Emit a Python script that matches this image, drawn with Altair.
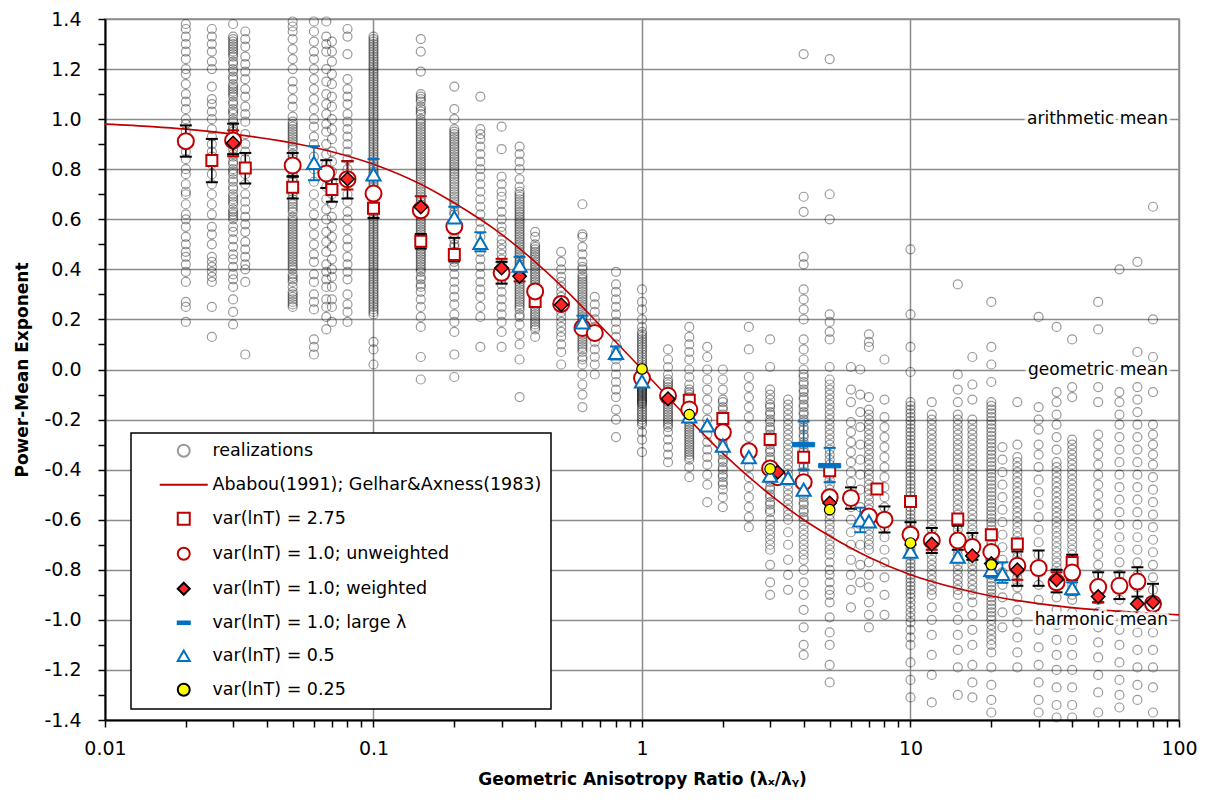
import altair as alt
import pandas as pd

# ---------------- series names / legend ----------------
LABELS = ["realizations", "Ababou(1991); Gelhar&Axness(1983)", "var(lnT) = 2.75",
          "var(lnT) = 1.0; unweighted", "var(lnT) = 1.0; weighted", "var(lnT) = 1.0; large λ",
          "var(lnT) = 0.5", "var(lnT) = 0.25"]

# ---------------- realizations (read per column) ----------------
real_x = [0.02, 0.025, 0.03, 0.0333, 0.05, 0.06, 0.0667, 0.07, 0.08, 0.1, 0.15, 0.2, 0.25, 0.3, 0.35,
          0.4, 0.5, 0.6, 0.667, 0.8, 1, 1.25, 1.5, 1.75, 2, 2.5, 3, 3.5, 4, 5, 6, 6.5, 7, 8, 10, 12,
          15, 17, 20, 22, 25, 30, 35, 40, 50, 60, 70, 80]
real_y = [
    [1.38, 1.36, 1.33, 1.30, 1.27, 1.24, 1.20, 1.18, 1.14, 1.10, 1.07, 1.04, 1.00, 0.98, 0.95, 0.92, 0.90, 0.87, 0.84, 0.80, 0.78, 0.74, 0.71, 0.70, 0.66, 0.62, 0.60, 0.57, 0.53, 0.50, 0.47, 0.45, 0.42, 0.39, 0.35, 0.27, 0.25, 0.19],
    [1.36, 1.33, 1.30, 1.27, 1.23, 1.20, 1.13, 1.08, 1.06, 1.03, 1.00, 0.96, 0.93, 0.90, 0.87, 0.85, 0.82, 0.78, 0.74, 0.70, 0.66, 0.62, 0.57, 0.54, 0.50, 0.45, 0.43, 0.41, 0.39, 0.37, 0.35, 0.25, 0.13],
    [1.38, 1.33, 1.31, 1.30, 1.28, 1.26, 1.23, 1.20, 1.17, 1.14, 1.12, 1.10, 1.07, 1.04, 1.00, 0.99, 0.97, 0.95, 0.90, 0.86, 0.83, 0.80, 0.78, 0.76, 0.73, 0.70, 0.69, 0.67, 0.64, 0.62, 0.60, 0.57, 0.55, 0.52, 0.49, 0.46, 0.44, 0.41, 0.38, 0.36, 0.33, 0.28, 0.23, 0.18],
    [1.35, 1.32, 1.29, 1.25, 1.22, 1.19, 1.16, 1.12, 1.09, 1.05, 1.02, 0.99, 0.94, 0.90, 0.87, 0.84, 0.78, 0.74, 0.70, 0.67, 0.64, 0.61, 0.58, 0.55, 0.51, 0.48, 0.45, 0.42, 0.40, 0.35, 0.06],
    [1.39, 1.37, 1.35, 1.32, 1.28, 1.24, 1.20, 1.15, 1.12, 1.08, 1.05, 1.01, 0.99, 0.97, 0.95, 0.93, 0.91, 0.89, 0.86, 0.84, 0.80, 0.78, 0.75, 0.72, 0.70, 0.67, 0.65, 0.63, 0.60, 0.58, 0.56, 0.54, 0.52, 0.50, 0.48, 0.46, 0.45, 0.44, 0.42, 0.40, 0.37, 0.35, 0.31, 0.30, 0.28, 0.26, 0.25],
    [1.39, 1.35, 1.31, 1.27, 1.24, 1.20, 1.16, 1.12, 1.08, 1.04, 1.00, 0.97, 0.93, 0.90, 0.85, 0.80, 0.75, 0.70, 0.66, 0.62, 0.58, 0.54, 0.50, 0.46, 0.43, 0.38, 0.35, 0.30, 0.27, 0.24, 0.12, 0.09, 0.06],
    [1.39, 1.33, 1.30, 1.27, 1.20, 1.15, 1.10, 1.06, 1.02, 0.98, 0.95, 0.90, 0.86, 0.82, 0.77, 0.73, 0.68, 0.64, 0.60, 0.55, 0.51, 0.47, 0.42, 0.39, 0.36, 0.33, 0.28, 0.25, 0.21, 0.16],
    [1.31, 1.27, 1.23, 1.18, 1.14, 1.09, 1.05, 1.00, 0.96, 0.92, 0.87, 0.83, 0.79, 0.75, 0.70, 0.66, 0.61, 0.57, 0.53, 0.49, 0.44, 0.40, 0.37, 0.33, 0.28, 0.25, 0.19],
    [1.36, 1.33, 1.26, 1.16, 1.12, 1.09, 1.06, 1.02, 0.99, 0.96, 0.93, 0.90, 0.87, 0.84, 0.80, 0.77, 0.74, 0.70, 0.67, 0.63, 0.60, 0.56, 0.52, 0.49, 0.45, 0.42, 0.39, 0.36, 0.30, 0.26, 0.23, 0.19],
    [1.33, 1.31, 1.29, 1.26, 1.24, 1.22, 1.20, 1.18, 1.15, 1.13, 1.11, 1.10, 1.08, 1.06, 1.04, 1.02, 1.00, 0.98, 0.97, 0.95, 0.93, 0.91, 0.89, 0.87, 0.85, 0.83, 0.82, 0.80, 0.78, 0.76, 0.74, 0.72, 0.70, 0.68, 0.66, 0.64, 0.62, 0.60, 0.58, 0.56, 0.54, 0.52, 0.50, 0.48, 0.46, 0.44, 0.42, 0.40, 0.38, 0.36, 0.34, 0.32, 0.30, 0.28, 0.26, 0.24, 0.22, 0.11, 0.08, 0.02],
    [1.32, 1.27, 1.19, 1.10, 1.08, 1.05, 1.03, 1.00, 0.98, 0.96, 0.94, 0.92, 0.90, 0.88, 0.86, 0.84, 0.82, 0.80, 0.78, 0.76, 0.74, 0.72, 0.70, 0.68, 0.66, 0.64, 0.62, 0.60, 0.58, 0.56, 0.54, 0.52, 0.50, 0.48, 0.46, 0.44, 0.42, 0.40, 0.37, 0.34, 0.31, 0.28, 0.25, 0.21, 0.17, 0.05, -0.04],
    [1.13, 1.04, 1.00, 0.96, 0.94, 0.92, 0.90, 0.88, 0.86, 0.84, 0.82, 0.80, 0.78, 0.76, 0.74, 0.72, 0.70, 0.68, 0.66, 0.63, 0.60, 0.57, 0.54, 0.50, 0.47, 0.44, 0.41, 0.38, 0.35, 0.32, 0.29, 0.26, 0.22, 0.19, 0.15, 0.06, -0.03],
    [1.09, 0.96, 0.94, 0.92, 0.89, 0.86, 0.83, 0.80, 0.77, 0.74, 0.71, 0.68, 0.65, 0.62, 0.59, 0.56, 0.53, 0.50, 0.47, 0.44, 0.41, 0.38, 0.35, 0.32, 0.29, 0.25, 0.21, 0.09],
    [0.97, 0.88, 0.77, 0.74, 0.71, 0.69, 0.66, 0.63, 0.60, 0.57, 0.55, 0.52, 0.50, 0.48, 0.46, 0.44, 0.42, 0.40, 0.38, 0.36, 0.34, 0.31, 0.28, 0.25, 0.22, 0.19, 0.15, 0.09],
    [0.89, 0.86, 0.83, 0.80, 0.76, 0.73, 0.70, 0.68, 0.66, 0.64, 0.62, 0.60, 0.58, 0.56, 0.54, 0.52, 0.50, 0.48, 0.46, 0.44, 0.42, 0.40, 0.38, 0.36, 0.34, 0.32, 0.30, 0.28, 0.26, 0.24, 0.21, 0.18, 0.14, 0.10, 0.04, -0.11],
    [0.55, 0.53, 0.50, 0.48, 0.46, 0.44, 0.42, 0.40, 0.38, 0.36, 0.34, 0.32, 0.30, 0.28, 0.26, 0.24, 0.22, 0.20, 0.18, 0.16, 0.13],
    [0.47, 0.43, 0.40, 0.37, 0.35, 0.33, 0.31, 0.29, 0.27, 0.25, 0.23, 0.21, 0.19, 0.17, 0.15, 0.13, 0.10, 0.07, 0.02],
    [0.66, 0.54, 0.53, 0.49, 0.46, 0.43, 0.41, 0.38, 0.36, 0.34, 0.32, 0.30, 0.28, 0.26, 0.24, 0.22, 0.20, 0.18, 0.16, 0.14, 0.12, 0.10, 0.08, 0.05, 0.02, -0.02, -0.06, -0.10, -0.15],
    [0.29, 0.26, 0.23, 0.20, 0.17, 0.14, 0.11, 0.08, 0.05, 0.02, -0.02],
    [0.39, 0.34, 0.31, 0.28, 0.25, 0.22, 0.19, 0.16, 0.13, 0.10, 0.07, 0.04, 0.01, -0.02, -0.05, -0.08, -0.11, -0.16, -0.20, -0.27],
    [0.32, 0.27, 0.24, 0.20, 0.17, 0.14, 0.12, 0.10, 0.08, 0.06, 0.04, 0.03, 0.02, 0.01, 0.00, -0.01, -0.02, -0.03, -0.04, -0.05, -0.06, -0.07, -0.08, -0.09, -0.10, -0.11, -0.12, -0.13, -0.14, -0.16, -0.18, -0.20, -0.22, -0.25, -0.28, -0.33],
    [0.08, 0.04, 0.01, -0.02, -0.04, -0.06, -0.08, -0.10, -0.12, -0.14, -0.16, -0.18, -0.20, -0.22, -0.25, -0.28, -0.31, -0.34, -0.37],
    [0.17, 0.13, 0.10, 0.07, 0.04, 0.00, -0.03, -0.06, -0.08, -0.10, -0.12, -0.14, -0.16, -0.18, -0.20, -0.22, -0.24, -0.26, -0.28, -0.30, -0.32, -0.34, -0.36, -0.39, -0.43],
    [0.09, 0.05, 0.00, -0.04, -0.08, -0.12, -0.16, -0.20, -0.23, -0.26, -0.29, -0.32, -0.35, -0.38, -0.42, -0.46, -0.53],
    [0.00, -0.04, -0.08, -0.12, -0.15, -0.18, -0.21, -0.24, -0.27, -0.30, -0.33, -0.36, -0.39, -0.42, -0.45, -0.48, -0.51, -0.55],
    [0.17, 0.08, -0.03, -0.07, -0.11, -0.15, -0.19, -0.23, -0.27, -0.31, -0.35, -0.39, -0.43, -0.47, -0.51, -0.55, -0.59, -0.63],
    [0.12, 0.01, -0.08, -0.12, -0.15, -0.18, -0.21, -0.24, -0.27, -0.30, -0.33, -0.36, -0.39, -0.42, -0.45, -0.48, -0.51, -0.54, -0.57, -0.60, -0.64, -0.68, -0.72, -0.78, -0.85, -0.90],
    [-0.12, -0.16, -0.20, -0.24, -0.28, -0.32, -0.36, -0.40, -0.44, -0.48, -0.52, -0.56, -0.60, -0.65, -0.70, -0.76, -0.82, -0.88],
    [1.26, 0.69, 0.63, 0.45, 0.42, 0.32, 0.28, 0.24, 0.20, 0.12, 0.08, 0.04, 0.00, -0.03, -0.06, -0.09, -0.12, -0.15, -0.18, -0.21, -0.24, -0.27, -0.30, -0.33, -0.36, -0.39, -0.42, -0.45, -0.48, -0.51, -0.54, -0.57, -0.60, -0.64, -0.68, -0.72, -0.76, -0.80, -0.85, -0.90, -0.96, -1.03, -1.10, -1.14],
    [1.24, 0.70, 0.60, 0.22, 0.19, 0.15, 0.12, 0.01, -0.04, -0.08, -0.12, -0.16, -0.20, -0.24, -0.28, -0.32, -0.36, -0.40, -0.44, -0.48, -0.52, -0.56, -0.60, -0.64, -0.68, -0.72, -0.77, -0.82, -0.88, -0.93, -0.99, -1.05, -1.10, -1.18, -1.25],
    [0.01, -0.08, -0.13, -0.21, -0.25, -0.29, -0.33, -0.37, -0.41, -0.45, -0.50, -0.55, -0.60, -0.65, -0.70, -0.76, -0.82, -0.88, -0.95],
    [0.00, -0.10, -0.17, -0.23, -0.30, -0.36, -0.42, -0.48, -0.55, -0.62, -0.70, -0.78, -0.85],
    [0.14, 0.11, 0.09, -0.11, -0.16, -0.20, -0.24, -0.28, -0.32, -0.36, -0.40, -0.44, -0.48, -0.52, -0.56, -0.60, -0.64, -0.68, -0.72, -0.77, -0.82, -0.87, -0.93, -0.98, -1.03],
    [0.04, -0.12, -0.19, -0.23, -0.27, -0.31, -0.35, -0.39, -0.43, -0.47, -0.51, -0.55, -0.59, -0.63, -0.67, -0.72, -0.77, -0.83, -0.90, -0.98],
    [0.48, 0.22, 0.09, -0.01, -0.13, -0.16, -0.19, -0.22, -0.25, -0.28, -0.31, -0.34, -0.37, -0.40, -0.43, -0.46, -0.49, -0.52, -0.55, -0.58, -0.61, -0.64, -0.67, -0.70, -0.73, -0.76, -0.79, -0.82, -0.85, -0.88, -0.91, -0.95, -0.99, -1.04, -1.10, -1.17, -1.24, -1.31],
    [-0.13, -0.18, -0.22, -0.26, -0.30, -0.34, -0.38, -0.42, -0.46, -0.50, -0.54, -0.58, -0.62, -0.66, -0.70, -0.74, -0.78, -0.82, -0.86, -0.90, -0.95, -1.00, -1.06, -1.14, -1.22, -1.33],
    [0.34, -0.02, -0.08, -0.13, -0.18, -0.22, -0.26, -0.30, -0.34, -0.38, -0.42, -0.46, -0.50, -0.54, -0.58, -0.62, -0.66, -0.70, -0.74, -0.78, -0.82, -0.86, -0.90, -0.95, -1.00, -1.06, -1.12, -1.19, -1.30],
    [0.05, -0.06, -0.12, -0.20, -0.24, -0.28, -0.32, -0.36, -0.40, -0.44, -0.48, -0.52, -0.56, -0.60, -0.64, -0.68, -0.72, -0.76, -0.80, -0.84, -0.88, -0.93, -0.98, -1.04, -1.10, -1.18, -1.25, -1.31],
    [0.27, 0.09, 0.02, -0.05, -0.13, -0.16, -0.19, -0.22, -0.25, -0.28, -0.31, -0.34, -0.37, -0.40, -0.43, -0.46, -0.49, -0.52, -0.55, -0.58, -0.61, -0.64, -0.67, -0.70, -0.73, -0.76, -0.79, -0.82, -0.85, -0.88, -0.91, -0.94, -0.97, -1.00, -1.04, -1.08, -1.13, -1.19, -1.26, -1.32, -1.37],
    [-0.31, -0.36, -0.41, -0.46, -0.51, -0.56, -0.61, -0.66, -0.71, -0.76, -0.81, -0.86, -0.91, -0.97, -1.03],
    [-0.13, -0.30, -0.35, -0.39, -0.43, -0.47, -0.51, -0.55, -0.59, -0.63, -0.67, -0.71, -0.75, -0.79, -0.83, -0.87, -0.91, -0.96, -1.01, -1.07, -1.13, -1.19],
    [0.21, -0.15, -0.20, -0.24, -0.30, -0.34, -0.39, -0.44, -0.49, -0.54, -0.59, -0.64, -0.69, -0.74, -0.80, -0.86, -0.92, -0.98, -1.04, -1.11, -1.18, -1.25, -1.32, -1.37],
    [0.17, -0.09, -0.13, -0.18, -0.22, -0.27, -0.32, -0.37, -0.41, -0.45, -0.49, -0.53, -0.57, -0.61, -0.65, -0.69, -0.73, -0.77, -0.81, -0.86, -0.91, -0.96, -1.02, -1.08, -1.14, -1.20, -1.27, -1.34, -1.39],
    [0.12, -0.07, -0.11, -0.28, -0.32, -0.36, -0.40, -0.44, -0.48, -0.52, -0.56, -0.60, -0.64, -0.68, -0.72, -0.76, -0.80, -0.84, -0.88, -0.92, -0.97, -1.02, -1.08, -1.14, -1.20, -1.27, -1.34, -1.39],
    [0.27, 0.16, -0.07, -0.13, -0.26, -0.30, -0.34, -0.38, -0.42, -0.46, -0.50, -0.54, -0.58, -0.62, -0.66, -0.70, -0.74, -0.78, -0.82, -0.87, -0.92, -0.97, -1.03, -1.09, -1.15, -1.22, -1.29, -1.37],
    [0.40, -0.09, -0.13, -0.18, -0.22, -0.27, -0.32, -0.37, -0.42, -0.47, -0.52, -0.57, -0.62, -0.67, -0.72, -0.77, -0.82, -0.87, -0.92, -0.98, -1.04, -1.10, -1.17, -1.24, -1.30, -1.35],
    [0.43, 0.07, -0.07, -0.12, -0.17, -0.22, -0.27, -0.32, -0.37, -0.42, -0.47, -0.52, -0.57, -0.62, -0.67, -0.72, -0.77, -0.82, -0.87, -0.93, -0.99, -1.05, -1.12, -1.19, -1.26, -1.32],
    [0.65, 0.20, 0.05, -0.09, -0.22, -0.26, -0.30, -0.34, -0.38, -0.43, -0.48, -0.53, -0.58, -0.63, -0.68, -0.73, -0.78, -0.83, -0.88, -0.93, -0.99, -1.05, -1.12, -1.19, -1.27, -1.37],
]
# extra circles in the darkest parts of the busiest columns
dense_x = [0.03, 0.05, 0.1, 0.15, 0.2, 0.35, 0.4, 0.6, 1, 1.25, 1.5, 2, 3, 3.5, 4, 5, 7, 10, 12, 15, 17,
           20, 25, 35, 40]
dense_y = [
    [1.32, 1.29, 1.27, 1.25, 1.22, 1.19, 1.16, 1.13, 1.11, 1.09, 1.06, 1.03, 1.02, 0.96, 0.94, 0.92, 0.88, 0.85, 0.82, 0.79, 0.75, 0.72, 0.68, 0.66, 0.63, 0.61],
    [0.98, 0.96, 0.94, 0.92, 0.90, 0.88, 0.85, 0.82, 0.79, 0.76, 0.73, 0.71, 0.68, 0.66, 0.64, 0.61, 0.59, 0.57, 0.55, 0.53, 0.51, 0.49, 0.47, 0.43, 0.41, 0.38, 0.36, 0.33, 0.29, 0.27],
    [1.32, 1.30, 1.28, 1.27, 1.25, 1.23, 1.21, 1.19, 1.17, 1.16, 1.14, 1.12, 1.09, 1.07, 1.05, 1.03, 1.01, 0.99, 0.96, 0.94, 0.92, 0.90, 0.88, 0.86, 0.84, 0.81, 0.79, 0.77, 0.75, 0.73, 0.71, 0.69, 0.67, 0.65, 0.63, 0.61, 0.59, 0.57, 0.55, 0.53, 0.51, 0.49, 0.47, 0.45, 0.43, 0.41, 0.39, 0.37, 0.35, 0.33, 0.31, 0.29, 0.27, 0.25, 0.23],
    [1.09, 1.07, 1.04, 1.02, 0.99, 0.97, 0.95, 0.93, 0.91, 0.89, 0.87, 0.85, 0.83, 0.81, 0.79, 0.77, 0.75, 0.73, 0.71, 0.69, 0.67, 0.65, 0.63, 0.61, 0.59, 0.57, 0.55, 0.53, 0.51, 0.49, 0.47, 0.45, 0.43, 0.41, 0.39, 0.36, 0.33],
    [0.95, 0.93, 0.91, 0.89, 0.87, 0.85, 0.83, 0.81, 0.79, 0.77, 0.75, 0.73, 0.71, 0.69, 0.67, 0.65, 0.62, 0.59, 0.56, 0.52, 0.49, 0.46, 0.43],
    [0.71, 0.69, 0.67, 0.65, 0.63, 0.61, 0.59, 0.57, 0.55, 0.53, 0.51, 0.49, 0.47, 0.45, 0.43, 0.41, 0.39, 0.37, 0.35, 0.33, 0.31, 0.29, 0.27, 0.25, 0.22],
    [0.49, 0.47, 0.45, 0.43, 0.41, 0.39, 0.37, 0.35, 0.33, 0.31, 0.29, 0.27, 0.25, 0.23, 0.21, 0.19, 0.17],
    [0.40, 0.37, 0.35, 0.33, 0.31, 0.29, 0.27, 0.25, 0.23, 0.21, 0.19, 0.17, 0.15, 0.13, 0.11, 0.09, 0.07, 0.04],
    [0.15, 0.13, 0.11, 0.09, 0.07, 0.05, -0.015, -0.025, -0.035, -0.045, -0.055, -0.065, -0.075, -0.085, -0.095, -0.105, -0.115, -0.125, -0.135, -0.15, -0.17, -0.19, -0.21],
    [-0.05, -0.07, -0.09, -0.11, -0.13, -0.15, -0.17, -0.19, -0.21, -0.23],
    [-0.09, -0.11, -0.13, -0.15, -0.17, -0.19, -0.21, -0.23, -0.25, -0.27, -0.29, -0.31, -0.33, -0.35],
    [-0.13, -0.16, -0.19, -0.22, -0.25, -0.28, -0.31, -0.34, -0.37, -0.40, -0.43, -0.46],
    [-0.10, -0.14, -0.17, -0.20, -0.23, -0.26, -0.29, -0.32, -0.35, -0.38, -0.41, -0.44, -0.47, -0.50, -0.53, -0.56, -0.62, -0.66, -0.70],
    [-0.14, -0.18, -0.22, -0.26, -0.30, -0.34, -0.38, -0.42, -0.46, -0.50, -0.54, -0.58],
    [-0.02, -0.05, -0.08, -0.11, -0.14, -0.17, -0.20, -0.23, -0.26, -0.29, -0.32, -0.35, -0.38, -0.41, -0.44, -0.47, -0.50, -0.53, -0.56, -0.59, -0.62, -0.66, -0.70, -0.74],
    [-0.06, -0.10, -0.14, -0.18, -0.22, -0.26, -0.30, -0.34, -0.38, -0.42, -0.46, -0.50, -0.54, -0.58, -0.62, -0.66, -0.70, -0.74, -0.80, -0.85, -0.90],
    [-0.18, -0.22, -0.26, -0.30, -0.34, -0.38, -0.42, -0.46, -0.50, -0.54, -0.58, -0.62, -0.66, -0.70],
    [-0.145, -0.175, -0.205, -0.235, -0.265, -0.295, -0.325, -0.355, -0.385, -0.415, -0.445, -0.475, -0.505, -0.535, -0.565, -0.595, -0.625, -0.655, -0.685, -0.715, -0.745, -0.775, -0.805, -0.835, -0.865, -0.895, -0.93, -0.97, -1.01, -1.07],
    [-0.20, -0.24, -0.28, -0.32, -0.36, -0.40, -0.44, -0.48, -0.52, -0.56, -0.60, -0.64, -0.68, -0.72, -0.76, -0.80, -0.84, -0.88],
    [-0.20, -0.24, -0.28, -0.32, -0.36, -0.40, -0.44, -0.48, -0.52, -0.56, -0.60, -0.64, -0.68, -0.72, -0.76, -0.80, -0.84, -0.88],
    [-0.22, -0.26, -0.30, -0.34, -0.38, -0.42, -0.46, -0.50, -0.54, -0.58, -0.62, -0.66, -0.70, -0.74, -0.78, -0.82, -0.86, -0.90],
    [-0.145, -0.175, -0.205, -0.235, -0.265, -0.295, -0.325, -0.355, -0.385, -0.415, -0.445, -0.475, -0.505, -0.535, -0.565, -0.595, -0.625, -0.655, -0.685, -0.715, -0.745, -0.775, -0.805, -0.835, -0.865, -0.895, -0.925, -0.955, -0.985, -1.02, -1.06, -1.10],
    [-0.37, -0.41, -0.45, -0.49, -0.53, -0.57, -0.61, -0.65, -0.69, -0.73, -0.77, -0.81, -0.85],
    [-0.39, -0.43, -0.47, -0.51, -0.55, -0.59, -0.63, -0.67, -0.71, -0.75, -0.79, -0.83],
    [-0.30, -0.34, -0.38, -0.42, -0.46, -0.50, -0.54, -0.58, -0.62, -0.66, -0.70, -0.74, -0.78, -0.82, -0.86, -0.90],
]

# ---------------- Ababou curve ----------------
curve_x = [0.01, 0.015, 0.02, 0.03, 0.05, 0.07, 0.1, 0.15, 0.2, 0.3, 0.4, 0.5, 0.7, 1, 1.5, 2, 3, 4, 5, 7,
           10, 15, 20, 30, 50, 70, 100]
curve_y = [0.98, 0.97, 0.96, 0.94, 0.905, 0.87, 0.82, 0.74, 0.665, 0.54, 0.43, 0.335, 0.175, 0.0, -0.2,
           -0.335, -0.5, -0.6, -0.665, -0.75, -0.82, -0.875, -0.905, -0.935, -0.96, -0.97, -0.98]

# ---------------- mean markers ----------------
sq_x = [0.025, 0.0333, 0.05, 0.07, 0.1, 0.15, 0.2, 0.4, 1.5, 2, 3, 4, 5, 7.5, 10, 15, 20, 25, 40]
sq_y = [0.835, 0.805, 0.728, 0.719, 0.644, 0.512, 0.459, 0.272, -0.123, -0.196, -0.28, -0.35, -0.404,
        -0.477, -0.527, -0.597, -0.66, -0.697, -0.771]
ci_x = [0.02, 0.03, 0.05, 0.0667, 0.08, 0.1, 0.15, 0.2, 0.3, 0.4, 0.5, 0.6, 0.667, 1, 1.25, 1.5, 2, 2.5,
        3, 3.2, 4, 5, 6, 7, 8, 10, 12, 15, 17, 20, 25, 30, 35, 40, 50, 60, 70, 80]
ci_y = [0.912, 0.915, 0.815, 0.783, 0.76, 0.703, 0.636, 0.572, 0.386, 0.312, 0.262, 0.166, 0.146, -0.034,
        -0.105, -0.16, -0.251, -0.327, -0.395, -0.43, -0.45, -0.51, -0.513, -0.587, -0.6, -0.66, -0.683,
        -0.683, -0.709, -0.729, -0.784, -0.793, -0.85, -0.811, -0.869, -0.864, -0.847, -0.936]
di_x = [0.03, 0.08, 0.15, 0.3, 0.35, 0.5, 1.25, 3.2, 5, 12, 17, 20, 25, 35, 50, 70, 80]
di_y = [0.905, 0.761, 0.649, 0.405, 0.372, 0.259, -0.117, -0.41, -0.533, -0.697, -0.744, -0.775, -0.8,
        -0.84, -0.907, -0.936, -0.93]
da_x = [4, 5]
da_y = [-0.30, -0.384]
tr_x = [0.06, 0.1, 0.2, 0.25, 0.35, 0.6, 0.8, 1, 1.5, 1.75, 2, 2.5, 3, 3.5, 4, 6.5, 7, 10, 15, 20, 22, 40]
tr_y = [0.825, 0.779, 0.608, 0.506, 0.415, 0.188, 0.066, -0.047, -0.187, -0.223, -0.304, -0.35, -0.424,
        -0.433, -0.48, -0.603, -0.607, -0.727, -0.747, -0.8, -0.816, -0.873]
ye_x = [1, 1.5, 3, 5, 10, 20]
ye_y = [0.002, -0.18, -0.397, -0.56, -0.693, -0.78]

# ---------------- error bars ----------------
eb_black_x = [0.02, 0.025, 0.03, 0.0333, 0.05, 0.05, 0.0667, 0.07, 0.08, 0.1, 0.15, 0.2, 0.3, 6, 8, 10, 12,
              15, 17, 25, 30, 35, 40, 50, 60, 70, 80]
eb_black_lo = [0.85, 0.748, 0.86, 0.743, 0.77, 0.683, 0.725, 0.67, 0.683, 0.605, 0.483, 0.432, 0.343, -0.556,
               -0.651, -0.70, -0.733, -0.72, -0.76, -0.864, -0.864, -0.89, -0.84, -0.93, -0.917, -0.907, -0.96]
eb_black_hi = [0.975, 0.921, 0.982, 0.865, 0.865, 0.772, 0.836, 0.76, 0.832, 0.68, 0.541, 0.526, 0.43, -0.471,
               -0.547, -0.61, -0.633, -0.624, -0.653, -0.727, -0.723, -0.80, -0.74, -0.81, -0.81, -0.79, -0.856]
eb_red_x = [0.03, 0.08, 0.15, 0.3, 0.35, 0.5, 12, 25, 35, 50]
eb_red_lo = [0.852, 0.719, 0.62, 0.37, 0.352, 0.24, -0.72, -0.84, -0.87, -0.93]
eb_red_hi = [0.955, 0.832, 0.692, 0.442, 0.39, 0.28, -0.67, -0.77, -0.81, -0.89]
eb_blue_x = [0.06, 0.1, 0.2, 0.25, 0.35, 0.6, 0.8, 4, 5, 6.5, 20, 22, 40]
eb_blue_lo = [0.756, 0.72, 0.57, 0.472, 0.38, 0.16, 0.04, -0.40, -0.45, -0.65, -0.83, -0.852, -0.90]
eb_blue_hi = [0.892, 0.841, 0.65, 0.548, 0.45, 0.215, 0.092, -0.207, -0.313, -0.552, -0.76, -0.77, -0.85]

# ---------------- annotations ----------------
ann_text = ["arithmetic mean", "geometric mean", "harmonic mean"]
ann_y = [1.0, 0.0, -1.0]

# ---------------- styles ----------------
DARKRED = "#C00000"
REDFILL = "#FF2525"
BLUE = "#0070C0"
YELLOW = "#FFFF00"
FONT = "DejaVu Sans"
DASH = "M-1,-0.2L1,-0.2L1,0.2L-1,0.2Z"
LINE = "M-4,0L4,0"
SHAPES = ["circle", LINE, "square", "circle", "diamond", DASH, "triangle-up", "circle"]
FILLS = ["transparent", "transparent", "white", "white", REDFILL, BLUE, "white", YELLOW]
STROKES = ["rgba(0,0,0,0.4)", DARKRED, DARKRED, DARKRED, "black", BLUE, BLUE, "black"]

# ---------------- tables ----------------
rows = []
for xs_, ys_ in [(real_x, real_y), (dense_x, dense_y)]:
    for xv, ys in zip(xs_, ys_):
        for yv in ys:
            rows.append({"x": xv, "y": yv, "series": LABELS[0]})
df_real = pd.DataFrame(rows)
df_curve = pd.DataFrame({"x": curve_x, "y": curve_y, "series": LABELS[1]})


def series_df(lab, xs, ys):
    return pd.DataFrame({"x": xs, "y": ys, "series": [lab] * len(xs)})


eb = []
for col, xs, los, his in [("black", eb_black_x, eb_black_lo, eb_black_hi),
                          (DARKRED, eb_red_x, eb_red_lo, eb_red_hi),
                          (BLUE, eb_blue_x, eb_blue_lo, eb_blue_hi)]:
    for xv, lo, hi in zip(xs, los, his):
        eb.append({"x": xv, "lo": lo, "hi": hi, "col": col})
df_eb = pd.DataFrame(eb)
df_ann = pd.DataFrame({"label": ann_text, "y": ann_y, "ax": [91] * len(ann_text)})

# ---------------- scales & axes ----------------
xscale = alt.Scale(type="log", domain=[0.01, 100], nice=False)
yscale = alt.Scale(domain=[-1.4, 1.4], nice=False)
x_ticks = [0.01, 0.02, 0.03, 0.04, 0.05, 0.06, 0.07, 0.08, 0.09, 0.1, 0.2, 0.3, 0.4, 0.5, 0.6, 0.7, 0.8, 0.9,
           1, 2, 3, 4, 5, 6, 7, 8, 9, 10, 20, 30, 40, 50, 60, 70, 80, 90, 100]
y_ticks = [round(-1.4 + 0.1 * i, 1) for i in range(29)]
xmajor = "abs(log(datum.value)/LN10 - round(log(datum.value)/LN10)) < 0.001"
ymajor = "abs(datum.value*5 - round(datum.value*5)) < 0.01"

xaxis = alt.Axis(values=x_ticks, labelExpr=f"{xmajor} ? toString(datum.value) : ''",
                 gridOpacity={"condition": {"test": xmajor, "value": 1}, "value": 0},
                 tickSize=7, labelPadding=12, labelOverlap=False, labelFlush=False,
                 title="Geometric Anisotropy  Ratio (λₓ/λᵧ)", titlePadding=13)
yaxis = alt.Axis(values=y_ticks,
                 labelExpr=f"{ymajor} ? replace(format(datum.value, '.1f'), '\u2212', '-') : ''",
                 gridOpacity={"condition": {"test": ymajor, "value": 1}, "value": 0},
                 tickSize=7, labelPadding=17, labelOverlap=False, labelFlush=False,
                 title="Power-Mean Exponent", titlePadding=12)


def X(f="x"):
    return alt.X(f"{f}:Q", scale=xscale, axis=xaxis)


def Y(f="y"):
    return alt.Y(f"{f}:Q", scale=yscale, axis=yaxis)


leg = alt.Legend(title=None)
shape_enc = alt.Shape("series:N", scale=alt.Scale(domain=LABELS, range=SHAPES), legend=leg)
fill_enc = alt.Fill("series:N", scale=alt.Scale(domain=LABELS, range=FILLS), legend=leg)
stroke_enc = alt.Stroke("series:N", scale=alt.Scale(domain=LABELS, range=STROKES), legend=leg)


def pts(df, size, sw):
    return alt.Chart(df).mark_point(filled=True, size=size, strokeWidth=sw, opacity=1).encode(
        x=X(), y=Y(), shape=shape_enc, fill=fill_enc, stroke=stroke_enc)


real = pts(df_real, 81, 1.2)

curve = alt.Chart(df_curve).mark_line(strokeWidth=1.6, interpolate="monotone").encode(
    x=X(), y=Y(), stroke=stroke_enc)

rules = alt.Chart(df_eb).mark_rule(strokeWidth=1.6, opacity=1).encode(
    x=X(), y=Y("lo"), y2="hi:Q", color=alt.Color("col:N", scale=None))
cap_lo = alt.Chart(df_eb).mark_tick(orient="horizontal", size=12, thickness=2, opacity=1).encode(
    x=X(), y=Y("lo"), color=alt.Color("col:N", scale=None))
cap_hi = alt.Chart(df_eb).mark_tick(orient="horizontal", size=12, thickness=2, opacity=1).encode(
    x=X(), y=Y("hi"), color=alt.Color("col:N", scale=None))

squares = pts(series_df(LABELS[2], sq_x, sq_y), 121, 2)
circles = pts(series_df(LABELS[3], ci_x, ci_y), 256, 2)
diamonds = pts(series_df(LABELS[4], di_x, di_y), 180, 1.5)
dashes = pts(series_df(LABELS[5], da_x, da_y), 484, 1)
triangles = pts(series_df(LABELS[6], tr_x, tr_y), 200, 2)
yellows = pts(series_df(LABELS[7], ye_x, ye_y), 110, 1.2)

halo = alt.Chart(df_ann).mark_text(align="right", baseline="middle", font=FONT, fontSize=17,
                                   stroke="white", strokeWidth=7, strokeJoin="round", fill="white",
                                   opacity=0.85).encode(x=X("ax"), y=Y(), text="label:N")
ann = alt.Chart(df_ann).mark_text(align="right", baseline="middle", font=FONT, fontSize=17,
                                  color="black").encode(x=X("ax"), y=Y(), text="label:N")

chart = alt.layer(real, curve, rules, cap_lo, cap_hi, squares, circles, diamonds, dashes, triangles,
                  yellows, halo, ann).properties(
    width=1074, height=701, autosize=alt.AutoSizeParams(type="none"),
    padding={"left": 105, "top": 19, "right": 28, "bottom": 82}
).configure_view(stroke="#8c8c8c", strokeWidth=1.5).configure_axis(
    domainColor="black", domainWidth=2, tickColor="black", tickWidth=1.5,
    gridColor="#8c8c8c", gridWidth=1.5, labelFont=FONT, labelFontSize=19, labelColor="black",
    titleFont=FONT, titleFontSize=17, titleFontWeight="bold", titleColor="black"
).configure_legend(
    orient="none", legendX=26, legendY=414, padding=9, symbolOffset=35, rowPadding=14,
    labelOffset=20, labelFont=FONT, labelFontSize=17.5, labelColor="black", labelLimit=600,
    strokeColor="black", strokeWidth=1.5, fillColor="white", symbolSize=144, symbolStrokeWidth=2
)

chart.save("out.html", embed_options={"renderer": "svg", "actions": False})
